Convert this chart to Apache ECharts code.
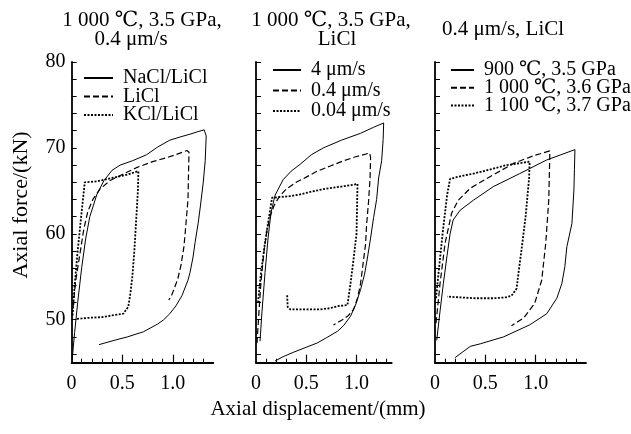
<!DOCTYPE html>
<html><head><meta charset="utf-8">
<script src="https://cdn.jsdelivr.net/npm/echarts@6/dist/echarts.min.js"></script>
<style>html,body{margin:0;padding:0;background:#fff}#c{width:631px;height:434px}</style>
</head><body><div id="c"></div><script>
// ---------- data ----------
const panelTitles = [['1 000 ℃, 3.5 GPa,', '0.4 μm/s'], ['1 000 ℃, 3.5 GPa,', 'LiCl'], ['0.4 μm/s, LiCl']];
const legend1 = ['NaCl/LiCl', 'LiCl', 'KCl/LiCl'];
const legend2 = ['4 μm/s', '0.4 μm/s', '0.04 μm/s'];
const legend3 = ['900 ℃, 3.5 GPa', '1 000 ℃, 3.6 GPa', '1 100 ℃, 3.7 GPa'];
const xLabelValues = [0, 0.5, 1.0];
const yLabelValues = [50, 60, 70, 80];
const yTickValues = [46,48,50,52,54,56,58,60,62,64,66,68,70,72,74,76,78,80];
const xMinorTicks = [0.1,0.2,0.3,0.4,0.6,0.7,0.8,0.9,1.1,1.2,1.3,1.4];
const xMajorTicks = [0.5, 1.0];

// Panel 1: 1000 C, 3.5 GPa, 0.4 um/s
const p1NaCl = [[0.005,45.3],[0.03,48.5],[0.06,52],[0.1,56.1],[0.14,59.5],[0.18,62],[0.25,64.6],[0.32,66.2],[0.4,67.4],[0.48,68.0],[0.6,68.5],[0.74,69.2],[0.85,70.1],[0.97,70.9],[1.08,71.3],[1.17,71.6],[1.25,71.9],[1.31,72.1],[1.33,71.4],[1.32,68.5],[1.30,65.9],[1.27,63],[1.25,61.2],[1.22,59],[1.20,57.3],[1.17,55.5],[1.15,54.6],[1.09,52.8],[1.03,51.6],[0.97,50.7],[0.91,50],[0.85,49.5],[0.71,48.6],[0.55,48],[0.42,47.6],[0.27,47.1]];
const p1LiCl = [[0.015,51.5],[0.04,54.5],[0.08,57.5],[0.12,60.5],[0.16,62.6],[0.21,64],[0.28,65.2],[0.38,66.2],[0.5,66.9],[0.64,67.7],[0.8,68.4],[0.95,68.9],[1.05,69.3],[1.14,69.7],[1.16,69.5],[1.155,67],[1.15,64],[1.13,61.2],[1.11,58.5],[1.08,56.3],[1.05,54.8],[1.02,53.8],[0.99,52.9],[0.96,52.3]];
const p1KCl = [[0.01,50.5],[0.03,54],[0.06,58],[0.09,61.5],[0.13,66.0],[0.25,66.1],[0.4,66.5],[0.55,66.9],[0.66,67.3],[0.655,65],[0.64,62],[0.62,58],[0.6,55],[0.58,53],[0.56,51.5],[0.51,50.7],[0.4,50.5],[0.3,50.3],[0.2,50.25],[0.1,50.15],[0.04,50.1]];

// Panel 2: 1000 C, 3.5 GPa, LiCl
const p2v4 = [[0.04,47.5],[0.06,51],[0.09,55.5],[0.12,59.5],[0.15,62.5],[0.19,64.5],[0.27,66.3],[0.35,67.3],[0.44,68.1],[0.55,69.2],[0.67,70.0],[0.85,70.9],[1.04,71.7],[1.17,72.4],[1.27,72.9],[1.265,71],[1.25,68.5],[1.22,66.5],[1.2,64],[1.17,61.9],[1.14,59.5],[1.11,57.3],[1.08,55.3],[1.04,53.5],[0.99,51.7],[0.94,50.4],[0.87,49.3],[0.81,48.65],[0.7,47.9],[0.61,47.3],[0.5,46.8],[0.37,46.2],[0.27,45.7],[0.19,45.2]];
const p2v04 = [[0.01,47.3],[0.03,51],[0.05,54.5],[0.08,58],[0.11,60.5],[0.14,62],[0.18,63.3],[0.23,64.3],[0.3,65.2],[0.4,66],[0.5,66.6],[0.61,67.3],[0.74,67.9],[0.87,68.5],[1.0,69],[1.13,69.4],[1.14,68.9],[1.135,66.5],[1.12,63.8],[1.1,61],[1.09,58.8],[1.065,56.5],[1.04,54.2],[1.01,52.5],[0.97,51.2],[0.92,50.5],[0.86,50.0],[0.77,49.4]];
const p2v004 = [[0.02,52],[0.05,55.5],[0.09,59],[0.13,62],[0.16,64.2],[0.25,64.3],[0.35,64.4],[0.44,64.6],[0.55,64.9],[0.67,65.2],[0.85,65.5],[1.01,65.8],[1.005,63],[1.0,60],[0.97,57],[0.94,54.2],[0.91,51.7],[0.82,51.6],[0.74,51.35],[0.64,51.2],[0.54,51.2],[0.44,51.2],[0.34,51.2],[0.315,51.5],[0.31,52.9]];

// Panel 3: 0.4 um/s, LiCl
const p3t900 = [[0.017,47.6],[0.05,51],[0.083,54.2],[0.12,57.5],[0.15,60.0],[0.18,61.6],[0.25,62.75],[0.38,63.9],[0.58,65.5],[0.84,67.0],[1.11,68.6],[1.25,69.2],[1.39,69.8],[1.385,67.5],[1.38,65.1],[1.36,61.2],[1.31,58.5],[1.29,56.2],[1.26,54.2],[1.21,52.5],[1.11,50.7],[0.94,49.4],[0.68,48.0],[0.45,47.2],[0.35,46.9],[0.2,45.6]];
const p3t1000 = [[0.01,49.6],[0.05,54.2],[0.1,58.9],[0.165,62.4],[0.23,63.9],[0.35,65.3],[0.51,66.4],[0.78,68.2],[0.98,69.1],[1.14,69.65],[1.14,69.0],[1.13,63.9],[1.10,58.9],[1.06,54.6],[0.99,51.9],[0.88,50.2],[0.76,49.3]];
const p3t1100 = [[0.01,52.5],[0.04,56],[0.08,60.5],[0.12,64.5],[0.15,66.4],[0.25,66.7],[0.38,67.0],[0.55,67.5],[0.71,68.0],[0.94,68.4],[0.935,66.5],[0.93,65.9],[0.9,62],[0.86,58.2],[0.83,55.5],[0.81,53.6],[0.76,52.8],[0.7,52.6],[0.58,52.5],[0.4,52.5],[0.25,52.6],[0.12,52.7]];

// ---------- chart ----------
const FONT = '"Liberation Serif","DejaVu Serif",serif';
const BLACK = '#000';
const grids = [
  {left: 71.6, top: 62, width: 141.7, height: 300.7},
  {left: 256, top: 62, width: 135.7, height: 300.7},
  {left: 435, top: 62, width: 151, height: 300.7}
];
const xMax = [1.4, 1.35, 1.5];

const xAxis = [];
const yAxis = [];
grids.forEach((g, i) => {
  xAxis.push({
    type: 'value', gridIndex: i, min: 0, max: xMax[i], position: 'bottom',
    axisLine: {show: true, onZero: false, lineStyle: {color: BLACK, width: 1.8}},
    axisTick: {show: true, inside: true, length: 4, customValues: xMinorTicks.filter(v => v < xMax[i]), lineStyle: {color: BLACK, width: 1}},
    axisLabel: {show: true, customValues: xLabelValues, formatter: v => v === 0 ? '0' : v.toFixed(1), color: BLACK, fontSize: 20, fontFamily: FONT, margin: 11},
    splitLine: {show: false}
  });
  xAxis.push({
    type: 'value', gridIndex: i, min: 0, max: xMax[i], position: 'bottom',
    axisLine: {show: false, onZero: false},
    axisTick: {show: true, inside: true, length: 8, customValues: xMajorTicks, lineStyle: {color: BLACK, width: 1.2}},
    axisLabel: {show: false},
    splitLine: {show: false}
  });
  yAxis.push({
    type: 'value', gridIndex: i, min: 45, max: 80, position: 'left',
    axisLine: {show: true, onZero: false, lineStyle: {color: BLACK, width: 1.8}},
    axisTick: {show: true, inside: true, length: 5, customValues: yTickValues, lineStyle: {color: BLACK, width: 1}},
    axisLabel: i === 0 ? {show: true, customValues: yLabelValues, color: BLACK, fontSize: 20, fontFamily: FONT, margin: 6} : {show: false},
    splitLine: {show: false}
  });
});

const styles = [
  {color: BLACK, width: 1, type: 'solid'},
  {color: BLACK, width: 1.2, type: [6, 3]},
  {color: BLACK, width: 1.8, type: [2, 1.5]}
];
const panels = [
  {names: legend1, data: [p1NaCl, p1LiCl, p1KCl]},
  {names: legend2, data: [p2v4, p2v04, p2v004]},
  {names: legend3, data: [p3t900, p3t1000, p3t1100]}
];
const series = [];
panels.forEach((p, i) => {
  p.names.forEach((n, k) => {
    series.push({
      name: n, type: 'line', xAxisIndex: i * 2, yAxisIndex: i,
      data: p.data[k], symbol: 'none', showSymbol: false, smooth: false,
      lineStyle: styles[k], itemStyle: {color: BLACK}, z: 3 - k
    });
  });
});

const legendCfg = [
  {left: 83, top: 68, width: 29, gap: -1.5},
  {left: 272, top: 60, width: 28, gap: 0.5},
  {left: 450, top: 60, width: 23, gap: -2.3}
];
const legend = panels.map((p, i) => ({
  data: p.names, orient: 'vertical', left: legendCfg[i].left, top: legendCfg[i].top,
  itemWidth: legendCfg[i].width, itemHeight: 10, itemGap: legendCfg[i].gap, padding: 0,
  selectedMode: false,
  itemStyle: {opacity: 0, color: 'transparent', borderColor: 'transparent', borderWidth: 0},
  textStyle: {color: BLACK, fontSize: 20, fontFamily: FONT, lineHeight: 20, padding: [0, 0, 0, 5]}
}));

function txt(text, x, y, size, rot) {
  return {type: 'text', x: x, y: y, rotation: rot || 0, silent: true,
    style: {text: text, font: size + 'px ' + FONT, fill: BLACK,
      align: 'center', verticalAlign: 'middle', textAlign: 'center', textVerticalAlign: 'middle'}};
}
const graphic = [
  txt(panelTitles[0][0], 142, 20, 21), txt(panelTitles[0][1], 131, 39, 21),
  txt(panelTitles[1][0], 331, 20, 21), txt(panelTitles[1][1], 337, 39, 21),
  txt(panelTitles[2][0], 503, 29, 21),
  txt('Axial force/(kN)', 21, 205, 22, Math.PI / 2),
  txt('Axial displacement/(mm)', 318, 409, 21)
];

const chart = echarts.init(document.getElementById('c'), null, {renderer: 'canvas'});
chart.setOption({
  animation: false,
  backgroundColor: '#fff',
  grid: grids,
  xAxis: xAxis,
  yAxis: yAxis,
  legend: legend,
  series: series,
  graphic: graphic
});
</script></body></html>
